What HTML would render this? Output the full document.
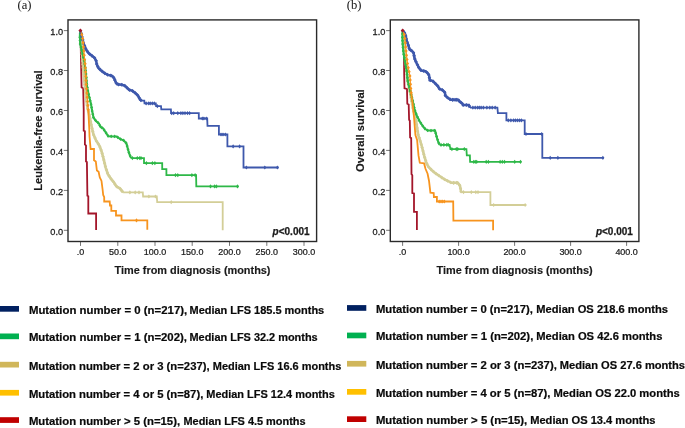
<!DOCTYPE html>
<html><head><meta charset="utf-8"><style>
html,body{margin:0;padding:0;background:#fff;}
svg{display:block;will-change:transform;}
text{font-family:"Liberation Sans",sans-serif;fill:#1a1a1a;}
.tk{font-size:9.7px;stroke:#1a1a1a;stroke-width:0.25px;}
.pv{font-size:10px;font-weight:bold;stroke:#1a1a1a;stroke-width:0.25px;}
.ti{font-size:10px;font-weight:bold;stroke:#1a1a1a;stroke-width:0.15px;}
.lg{font-size:10.6px;font-weight:bold;fill:#0a0a0a;stroke:#0a0a0a;stroke-width:0.2px;}
.sr{font-family:"Liberation Serif",serif;font-size:12.6px;fill:#111;}
</style></head><body>
<svg width="685" height="428" viewBox="0 0 685 428">
<rect width="685" height="428" fill="#fff"/>
<text x="17.5" y="8.9" class="sr">(a)</text>
<text x="346.8" y="8.6" class="sr">(b)</text>
<line x1="63.8" y1="30.6" x2="68.0" y2="30.6" stroke="#666" stroke-width="0.9"/>
<text transform="translate(63.10,35.20) scale(0.95,1)" text-anchor="end" class="tk">1.0</text>
<line x1="63.8" y1="70.5" x2="68.0" y2="70.5" stroke="#666" stroke-width="0.9"/>
<text transform="translate(63.10,75.14) scale(0.95,1)" text-anchor="end" class="tk">0.8</text>
<line x1="63.8" y1="110.5" x2="68.0" y2="110.5" stroke="#666" stroke-width="0.9"/>
<text transform="translate(63.10,115.08) scale(0.95,1)" text-anchor="end" class="tk">0.6</text>
<line x1="63.8" y1="150.4" x2="68.0" y2="150.4" stroke="#666" stroke-width="0.9"/>
<text transform="translate(63.10,155.02) scale(0.95,1)" text-anchor="end" class="tk">0.4</text>
<line x1="63.8" y1="190.4" x2="68.0" y2="190.4" stroke="#666" stroke-width="0.9"/>
<text transform="translate(63.10,194.96) scale(0.95,1)" text-anchor="end" class="tk">0.2</text>
<line x1="63.8" y1="230.3" x2="68.0" y2="230.3" stroke="#666" stroke-width="0.9"/>
<text transform="translate(63.10,234.90) scale(0.95,1)" text-anchor="end" class="tk">0.0</text>
<line x1="80.5" y1="241.5" x2="80.5" y2="245.9" stroke="#666" stroke-width="0.9"/>
<text transform="translate(80.50,254.90) scale(0.925,1)" text-anchor="middle" class="tk">.0</text>
<line x1="117.8" y1="241.5" x2="117.8" y2="245.9" stroke="#666" stroke-width="0.9"/>
<text transform="translate(117.75,254.90) scale(0.925,1)" text-anchor="middle" class="tk">50.0</text>
<line x1="155.0" y1="241.5" x2="155.0" y2="245.9" stroke="#666" stroke-width="0.9"/>
<text transform="translate(155.00,254.90) scale(0.925,1)" text-anchor="middle" class="tk">100.0</text>
<line x1="192.2" y1="241.5" x2="192.2" y2="245.9" stroke="#666" stroke-width="0.9"/>
<text transform="translate(192.25,254.90) scale(0.925,1)" text-anchor="middle" class="tk">150.0</text>
<line x1="229.5" y1="241.5" x2="229.5" y2="245.9" stroke="#666" stroke-width="0.9"/>
<text transform="translate(229.50,254.90) scale(0.925,1)" text-anchor="middle" class="tk">200.0</text>
<line x1="266.8" y1="241.5" x2="266.8" y2="245.9" stroke="#666" stroke-width="0.9"/>
<text transform="translate(266.75,254.90) scale(0.925,1)" text-anchor="middle" class="tk">250.0</text>
<line x1="304.0" y1="241.5" x2="304.0" y2="245.9" stroke="#666" stroke-width="0.9"/>
<text transform="translate(304.00,254.90) scale(0.925,1)" text-anchor="middle" class="tk">300.0</text>
<polyline points="80.5,30.5 80.7,45.0 80.9,55.0 81.6,87.5 83.2,88.3 83.7,110.0 83.7,130.6 84.9,131.2 84.9,144.4 86.0,145.5 86.0,161.5 86.9,162.0 87.4,195.7 88.3,196.3 88.3,213.5 96.1,213.5 96.1,230.1" fill="none" stroke="#a3162a" stroke-width="1.8" stroke-linejoin="miter" stroke-linecap="butt"/>

<polyline points="123.1,192.4 142.8,192.4 143.1,196.5 156.8,196.5 157.2,202.2 222.7,202.2 222.7,230.2" fill="none" stroke="#d3ce97" stroke-width="1.8" stroke-linejoin="miter" stroke-linecap="butt"/>
<polyline points="80.5,30.5 81.2,40.0 81.8,50.0 82.5,60.0 83.3,70.0 84.3,80.0 85.3,90.0 86.2,98.6 87.5,108.0 89.5,115.7 91.5,126.0 93.5,134.5 96.3,140.9 97.3,142.3 99.6,146.1 101.8,152.1 103.4,158.2 105.6,167.3 107.9,174.2 110.9,178.7 114.0,182.5 116.3,186.3 120.1,188.6 123.1,192.4" fill="none" stroke="#d3ce97" stroke-width="2.6" stroke-linejoin="miter" stroke-linecap="butt"/>
<polygon points="80.7,32.0 82.4,33.9 80.7,35.8 79.0,33.9" fill="#d3ce97"/><polygon points="81.0,35.4 82.7,37.3 81.0,39.2 79.3,37.3" fill="#d3ce97"/><polygon points="81.2,38.8 82.9,40.7 81.2,42.6 79.5,40.7" fill="#d3ce97"/><polygon points="81.4,42.2 83.1,44.1 81.4,46.0 79.7,44.1" fill="#d3ce97"/><polygon points="81.6,45.6 83.3,47.5 81.6,49.4 79.9,47.5" fill="#d3ce97"/><polygon points="81.9,49.0 83.6,50.9 81.9,52.8 80.2,50.9" fill="#d3ce97"/><polygon points="82.1,52.3 83.8,54.2 82.1,56.1 80.4,54.2" fill="#d3ce97"/><polygon points="82.3,55.7 84.0,57.6 82.3,59.5 80.6,57.6" fill="#d3ce97"/><polygon points="82.6,59.1 84.3,61.0 82.6,62.9 80.9,61.0" fill="#d3ce97"/><polygon points="82.9,62.5 84.6,64.4 82.9,66.3 81.2,64.4" fill="#d3ce97"/><polygon points="83.1,65.9 84.8,67.8 83.1,69.7 81.4,67.8" fill="#d3ce97"/><polygon points="83.4,69.3 85.1,71.2 83.4,73.1 81.7,71.2" fill="#d3ce97"/><polygon points="83.8,72.7 85.5,74.6 83.8,76.5 82.1,74.6" fill="#d3ce97"/><polygon points="84.1,76.1 85.8,78.0 84.1,79.9 82.4,78.0" fill="#d3ce97"/><polygon points="84.4,79.4 86.1,81.3 84.4,83.2 82.7,81.3" fill="#d3ce97"/><polygon points="84.8,82.8 86.5,84.7 84.8,86.6 83.1,84.7" fill="#d3ce97"/><polygon points="85.1,86.2 86.8,88.1 85.1,90.0 83.4,88.1" fill="#d3ce97"/><polygon points="85.5,89.6 87.2,91.5 85.5,93.4 83.8,91.5" fill="#d3ce97"/><polygon points="85.8,93.0 87.5,94.9 85.8,96.8 84.1,94.9" fill="#d3ce97"/><polygon points="86.2,96.4 87.9,98.3 86.2,100.2 84.5,98.3" fill="#d3ce97"/><polygon points="86.6,99.7 88.3,101.6 86.6,103.5 84.9,101.6" fill="#d3ce97"/><polygon points="87.1,103.1 88.8,105.0 87.1,106.9 85.4,105.0" fill="#d3ce97"/><polygon points="87.6,106.5 89.3,108.4 87.6,110.3 85.9,108.4" fill="#d3ce97"/><polygon points="88.4,109.7 90.1,111.6 88.4,113.5 86.7,111.6" fill="#d3ce97"/><polygon points="89.3,113.0 91.0,114.9 89.3,116.8 87.6,114.9" fill="#d3ce97"/><polygon points="90.0,116.4 91.7,118.3 90.0,120.2 88.3,118.3" fill="#d3ce97"/><polygon points="90.6,119.7 92.3,121.6 90.6,123.5 88.9,121.6" fill="#d3ce97"/><polygon points="91.3,123.0 93.0,124.9 91.3,126.8 89.6,124.9" fill="#d3ce97"/><polygon points="92.0,126.4 93.7,128.3 92.0,130.2 90.3,128.3" fill="#d3ce97"/><polygon points="92.8,129.7 94.5,131.6 92.8,133.5 91.1,131.6" fill="#d3ce97"/><polygon points="93.7,133.0 95.4,134.9 93.7,136.8 92.0,134.9" fill="#d3ce97"/><polygon points="95.0,136.1 96.7,138.0 95.0,139.9 93.3,138.0" fill="#d3ce97"/><polygon points="96.4,139.2 98.1,141.1 96.4,143.0 94.7,141.1" fill="#d3ce97"/><polygon points="98.3,142.0 100.0,143.9 98.3,145.8 96.6,143.9" fill="#d3ce97"/><polygon points="99.9,145.0 101.6,146.9 99.9,148.8 98.2,146.9" fill="#d3ce97"/><polygon points="101.1,148.2 102.8,150.1 101.1,152.0 99.4,150.1" fill="#d3ce97"/><polygon points="102.1,151.4 103.8,153.3 102.1,155.2 100.4,153.3" fill="#d3ce97"/><polygon points="103.0,154.7 104.7,156.6 103.0,158.5 101.3,156.6" fill="#d3ce97"/><polygon points="103.8,158.0 105.5,159.9 103.8,161.8 102.1,159.9" fill="#d3ce97"/><polygon points="104.6,161.3 106.3,163.2 104.6,165.1 102.9,163.2" fill="#d3ce97"/><polygon points="105.4,164.6 107.1,166.5 105.4,168.4 103.7,166.5" fill="#d3ce97"/><polygon points="106.4,167.8 108.1,169.7 106.4,171.6 104.7,169.7" fill="#d3ce97"/><polygon points="107.5,171.1 109.2,173.0 107.5,174.9 105.8,173.0" fill="#d3ce97"/><polygon points="109.1,174.1 110.8,176.0 109.1,177.9 107.4,176.0" fill="#d3ce97"/><polygon points="111.0,176.9 112.7,178.8 111.0,180.7 109.3,178.8" fill="#d3ce97"/><polygon points="113.1,179.5 114.8,181.4 113.1,183.3 111.4,181.4" fill="#d3ce97"/><polygon points="115.0,182.3 116.7,184.2 115.0,186.1 113.3,184.2" fill="#d3ce97"/><polygon points="117.1,184.9 118.8,186.8 117.1,188.7 115.4,186.8" fill="#d3ce97"/><polygon points="120.0,186.7 121.7,188.6 120.0,190.5 118.3,188.6" fill="#d3ce97"/><polygon points="122.1,189.3 123.8,191.2 122.1,193.1 120.4,191.2" fill="#d3ce97"/>
<polygon points="129.9,190.3 131.4,192.4 129.9,194.5 128.4,192.4" fill="#d3ce97"/><polygon points="135.2,190.3 136.7,192.4 135.2,194.5 133.7,192.4" fill="#d3ce97"/><polygon points="139.0,190.3 140.5,192.4 139.0,194.5 137.5,192.4" fill="#d3ce97"/><polygon points="148.9,194.4 150.4,196.5 148.9,198.6 147.4,196.5" fill="#d3ce97"/><polygon points="155.5,194.4 157.0,196.5 155.5,198.6 154.0,196.5" fill="#d3ce97"/><polygon points="171.2,200.1 172.7,202.2 171.2,204.3 169.7,202.2" fill="#d3ce97"/>
<polyline points="131.5,158.1 144.0,158.1 144.0,163.2 162.2,163.2 162.2,169.1 166.4,169.1 166.4,175.2 196.1,175.2 196.3,186.4 238.5,186.4" fill="none" stroke="#2eb848" stroke-width="1.8" stroke-linejoin="miter" stroke-linecap="butt"/>
<polyline points="80.5,30.5 79.8,36.0 80.2,44.0 82.2,52.0 84.5,62.0 85.8,72.0 86.6,81.5 87.3,88.0 89.0,95.9 91.0,103.9 91.9,109.8 93.5,117.5 96.0,121.0 99.0,123.5 100.5,127.0 103.0,128.3 105.6,132.2 108.3,136.2 116.5,136.4 120.0,138.9 123.8,140.5 126.4,143.3 127.9,149.1 129.1,153.2 130.7,157.3 131.5,158.1" fill="none" stroke="#2eb848" stroke-width="2.0" stroke-linejoin="miter" stroke-linecap="butt"/>
<polygon points="80.1,32.0 81.6,33.9 80.1,35.8 78.6,33.9" fill="#2eb848"/><polygon points="79.9,35.4 81.4,37.3 79.9,39.2 78.4,37.3" fill="#2eb848"/><polygon points="80.0,38.7 81.5,40.6 80.0,42.5 78.5,40.6" fill="#2eb848"/><polygon points="80.2,42.1 81.7,44.0 80.2,45.9 78.7,44.0" fill="#2eb848"/><polygon points="81.0,45.4 82.5,47.3 81.0,49.2 79.5,47.3" fill="#2eb848"/><polygon points="81.9,48.7 83.4,50.6 81.9,52.5 80.4,50.6" fill="#2eb848"/><polygon points="82.6,52.0 84.1,53.9 82.6,55.8 81.1,53.9" fill="#2eb848"/><polygon points="83.4,55.4 84.9,57.3 83.4,59.2 81.9,57.3" fill="#2eb848"/><polygon points="84.2,58.7 85.7,60.6 84.2,62.5 82.7,60.6" fill="#2eb848"/><polygon points="84.7,62.0 86.2,63.9 84.7,65.8 83.2,63.9" fill="#2eb848"/><polygon points="85.2,65.4 86.7,67.3 85.2,69.2 83.7,67.3" fill="#2eb848"/><polygon points="85.6,68.8 87.1,70.7 85.6,72.6 84.1,70.7" fill="#2eb848"/><polygon points="86.0,72.1 87.5,74.0 86.0,75.9 84.5,74.0" fill="#2eb848"/><polygon points="86.3,75.5 87.8,77.4 86.3,79.3 84.8,77.4" fill="#2eb848"/><polygon points="86.5,78.9 88.0,80.8 86.5,82.7 85.0,80.8" fill="#2eb848"/><polygon points="86.9,82.3 88.4,84.2 86.9,86.1 85.4,84.2" fill="#2eb848"/><polygon points="87.3,85.7 88.8,87.6 87.3,89.5 85.8,87.6" fill="#2eb848"/><polygon points="87.9,89.0 89.4,90.9 87.9,92.8 86.4,90.9" fill="#2eb848"/><polygon points="88.6,92.3 90.1,94.2 88.6,96.1 87.1,94.2" fill="#2eb848"/><polygon points="89.4,95.7 90.9,97.6 89.4,99.5 87.9,97.6" fill="#2eb848"/><polygon points="90.2,98.9 91.7,100.8 90.2,102.7 88.7,100.8" fill="#2eb848"/><polygon points="91.0,102.3 92.5,104.2 91.0,106.1 89.5,104.2" fill="#2eb848"/><polygon points="91.6,105.6 93.1,107.5 91.6,109.4 90.1,107.5" fill="#2eb848"/><polygon points="92.1,109.0 93.6,110.9 92.1,112.8 90.6,110.9" fill="#2eb848"/><polygon points="92.8,112.3 94.3,114.2 92.8,116.1 91.3,114.2" fill="#2eb848"/><polygon points="93.5,115.6 95.0,117.5 93.5,119.4 92.0,117.5" fill="#2eb848"/><polygon points="95.5,118.4 97.0,120.3 95.5,122.2 94.0,120.3" fill="#2eb848"/><polygon points="97.9,120.7 99.4,122.6 97.9,124.5 96.4,122.6" fill="#2eb848"/><polygon points="99.8,123.5 101.3,125.4 99.8,127.3 98.3,125.4" fill="#2eb848"/><polygon points="101.9,125.8 103.4,127.7 101.9,129.6 100.4,127.7" fill="#2eb848"/><polygon points="104.2,128.2 105.7,130.1 104.2,132.0 102.7,130.1" fill="#2eb848"/><polygon points="106.1,131.0 107.6,132.9 106.1,134.8 104.6,132.9" fill="#2eb848"/><polygon points="108.0,133.9 109.5,135.8 108.0,137.7 106.5,135.8" fill="#2eb848"/><polygon points="111.2,134.4 112.7,136.3 111.2,138.2 109.7,136.3" fill="#2eb848"/><polygon points="114.6,134.5 116.1,136.4 114.6,138.3 113.1,136.4" fill="#2eb848"/><polygon points="117.7,135.4 119.2,137.3 117.7,139.2 116.2,137.3" fill="#2eb848"/><polygon points="120.5,137.2 122.0,139.1 120.5,141.0 119.0,139.1" fill="#2eb848"/><polygon points="123.7,138.5 125.2,140.4 123.7,142.3 122.2,140.4" fill="#2eb848"/><polygon points="126.0,141.0 127.5,142.9 126.0,144.8 124.5,142.9" fill="#2eb848"/><polygon points="127.1,144.1 128.6,146.0 127.1,147.9 125.6,146.0" fill="#2eb848"/><polygon points="128.0,147.4 129.5,149.3 128.0,151.2 126.5,149.3" fill="#2eb848"/><polygon points="128.9,150.7 130.4,152.6 128.9,154.5 127.4,152.6" fill="#2eb848"/><polygon points="130.1,153.9 131.6,155.8 130.1,157.7 128.6,155.8" fill="#2eb848"/>
<polygon points="132.4,156.0 133.9,158.1 132.4,160.2 130.9,158.1" fill="#2eb848"/><polygon points="137.3,156.0 138.8,158.1 137.3,160.2 135.8,158.1" fill="#2eb848"/><polygon points="139.7,156.0 141.2,158.1 139.7,160.2 138.2,158.1" fill="#2eb848"/><polygon points="141.0,156.0 142.5,158.1 141.0,160.2 139.5,158.1" fill="#2eb848"/><polygon points="146.4,161.1 147.9,163.2 146.4,165.3 144.9,163.2" fill="#2eb848"/><polygon points="152.4,161.1 153.9,163.2 152.4,165.3 150.9,163.2" fill="#2eb848"/><polygon points="154.9,161.1 156.4,163.2 154.9,165.3 153.4,163.2" fill="#2eb848"/><polygon points="175.5,173.1 177.0,175.2 175.5,177.3 174.0,175.2" fill="#2eb848"/><polygon points="177.8,173.1 179.3,175.2 177.8,177.3 176.3,175.2" fill="#2eb848"/><polygon points="191.9,173.1 193.4,175.2 191.9,177.3 190.4,175.2" fill="#2eb848"/><polygon points="195.1,173.1 196.6,175.2 195.1,177.3 193.6,175.2" fill="#2eb848"/><polygon points="210.5,184.3 212.0,186.4 210.5,188.5 209.0,186.4" fill="#2eb848"/><polygon points="214.6,184.3 216.1,186.4 214.6,188.5 213.1,186.4" fill="#2eb848"/><polygon points="216.4,184.3 217.9,186.4 216.4,188.5 214.9,186.4" fill="#2eb848"/><polygon points="237.5,184.3 239.0,186.4 237.5,188.5 236.0,186.4" fill="#2eb848"/>
<polyline points="141.5,100.6 144.3,100.6 144.5,103.4 155.8,103.4 156.1,106.2 161.0,106.2 161.3,109.3 170.9,109.3 171.1,113.2 198.8,113.2 198.8,118.5 207.2,118.5 207.5,125.8 218.9,125.8 218.9,134.5 227.4,134.5 227.4,146.4 243.5,146.4 243.5,167.5 278.6,167.5" fill="none" stroke="#3e58ac" stroke-width="1.8" stroke-linejoin="miter" stroke-linecap="butt"/>
<polyline points="80.5,30.5 82.0,37.0 83.6,43.6 85.9,49.1 88.3,53.0 91.4,55.3 94.5,57.7 96.1,60.8 96.9,64.7 98.4,67.9 100.8,70.2 104.7,73.3 107.8,74.9 111.7,75.7 114.1,78.0 115.6,82.0 117.2,84.3 121.9,84.8 125.0,85.9 127.4,88.2 129.0,89.8 132.1,90.6 135.2,92.9 138.3,96.0 140.0,99.6 141.5,100.6" fill="none" stroke="#3e58ac" stroke-width="2.5" stroke-linejoin="miter" stroke-linecap="butt"/>
<polygon points="81.2,31.6 83.0,33.6 81.2,35.6 79.4,33.6" fill="#3e58ac"/><polygon points="81.9,34.7 83.7,36.7 81.9,38.7 80.1,36.7" fill="#3e58ac"/><polygon points="82.7,37.8 84.5,39.8 82.7,41.8 80.9,39.8" fill="#3e58ac"/><polygon points="83.4,41.0 85.2,43.0 83.4,45.0 81.6,43.0" fill="#3e58ac"/><polygon points="84.6,43.9 86.4,45.9 84.6,47.9 82.8,45.9" fill="#3e58ac"/><polygon points="85.8,46.9 87.6,48.9 85.8,50.9 84.0,48.9" fill="#3e58ac"/><polygon points="87.5,49.6 89.3,51.6 87.5,53.6 85.7,51.6" fill="#3e58ac"/><polygon points="89.6,52.0 91.4,54.0 89.6,56.0 87.8,54.0" fill="#3e58ac"/><polygon points="92.1,53.9 93.9,55.9 92.1,57.9 90.3,55.9" fill="#3e58ac"/><polygon points="94.6,55.9 96.4,57.9 94.6,59.9 92.8,57.9" fill="#3e58ac"/><polygon points="96.1,58.7 97.9,60.7 96.1,62.7 94.3,60.7" fill="#3e58ac"/><polygon points="96.7,61.9 98.5,63.9 96.7,65.9 94.9,63.9" fill="#3e58ac"/><polygon points="97.9,64.8 99.7,66.8 97.9,68.8 96.1,66.8" fill="#3e58ac"/><polygon points="99.9,67.3 101.7,69.3 99.9,71.3 98.1,69.3" fill="#3e58ac"/><polygon points="102.3,69.4 104.1,71.4 102.3,73.4 100.5,71.4" fill="#3e58ac"/><polygon points="104.8,71.3 106.6,73.3 104.8,75.3 103.0,73.3" fill="#3e58ac"/><polygon points="107.6,72.8 109.4,74.8 107.6,76.8 105.8,74.8" fill="#3e58ac"/><polygon points="110.8,73.5 112.6,75.5 110.8,77.5 109.0,75.5" fill="#3e58ac"/><polygon points="113.3,75.2 115.1,77.2 113.3,79.2 111.5,77.2" fill="#3e58ac"/><polygon points="114.8,78.0 116.6,80.0 114.8,82.0 113.0,80.0" fill="#3e58ac"/><polygon points="116.2,80.9 118.0,82.9 116.2,84.9 114.4,82.9" fill="#3e58ac"/><polygon points="118.6,82.5 120.4,84.5 118.6,86.5 116.8,84.5" fill="#3e58ac"/><polygon points="121.8,82.8 123.6,84.8 121.8,86.8 120.0,84.8" fill="#3e58ac"/><polygon points="124.8,83.8 126.6,85.8 124.8,87.8 123.0,85.8" fill="#3e58ac"/><polygon points="127.2,86.0 129.0,88.0 127.2,90.0 125.4,88.0" fill="#3e58ac"/><polygon points="129.6,88.0 131.4,90.0 129.6,92.0 127.8,90.0" fill="#3e58ac"/><polygon points="132.6,89.0 134.4,91.0 132.6,93.0 130.8,91.0" fill="#3e58ac"/><polygon points="135.2,90.9 137.0,92.9 135.2,94.9 133.4,92.9" fill="#3e58ac"/><polygon points="137.4,93.1 139.2,95.1 137.4,97.1 135.6,95.1" fill="#3e58ac"/><polygon points="139.1,95.8 140.9,97.8 139.1,99.8 137.3,97.8" fill="#3e58ac"/><polygon points="141.0,98.3 142.8,100.3 141.0,102.3 139.2,100.3" fill="#3e58ac"/>
<polygon points="146.1,101.3 147.6,103.4 146.1,105.5 144.6,103.4" fill="#3e58ac"/><polygon points="148.7,101.3 150.2,103.4 148.7,105.5 147.2,103.4" fill="#3e58ac"/><polygon points="150.2,101.3 151.7,103.4 150.2,105.5 148.7,103.4" fill="#3e58ac"/><polygon points="152.3,101.3 153.8,103.4 152.3,105.5 150.8,103.4" fill="#3e58ac"/><polygon points="154.3,101.3 155.8,103.4 154.3,105.5 152.8,103.4" fill="#3e58ac"/><polygon points="157.4,104.1 158.9,106.2 157.4,108.3 155.9,106.2" fill="#3e58ac"/><polygon points="171.7,111.1 173.2,113.2 171.7,115.3 170.2,113.2" fill="#3e58ac"/><polygon points="173.7,111.1 175.2,113.2 173.7,115.3 172.2,113.2" fill="#3e58ac"/><polygon points="177.8,111.1 179.3,113.2 177.8,115.3 176.3,113.2" fill="#3e58ac"/><polygon points="180.9,111.1 182.4,113.2 180.9,115.3 179.4,113.2" fill="#3e58ac"/><polygon points="182.9,111.1 184.4,113.2 182.9,115.3 181.4,113.2" fill="#3e58ac"/><polygon points="185.0,111.1 186.5,113.2 185.0,115.3 183.5,113.2" fill="#3e58ac"/><polygon points="187.5,111.1 189.0,113.2 187.5,115.3 186.0,113.2" fill="#3e58ac"/><polygon points="189.6,111.1 191.1,113.2 189.6,115.3 188.1,113.2" fill="#3e58ac"/><polygon points="202.3,116.4 203.8,118.5 202.3,120.6 200.8,118.5" fill="#3e58ac"/><polygon points="203.9,116.4 205.4,118.5 203.9,120.6 202.4,118.5" fill="#3e58ac"/><polygon points="206.4,116.4 207.9,118.5 206.4,120.6 204.9,118.5" fill="#3e58ac"/><polygon points="221.0,132.4 222.5,134.5 221.0,136.6 219.5,134.5" fill="#3e58ac"/><polygon points="223.0,132.4 224.5,134.5 223.0,136.6 221.5,134.5" fill="#3e58ac"/><polygon points="225.3,132.4 226.8,134.5 225.3,136.6 223.8,134.5" fill="#3e58ac"/><polygon points="233.1,144.3 234.6,146.4 233.1,148.5 231.6,146.4" fill="#3e58ac"/><polygon points="239.6,144.3 241.1,146.4 239.6,148.5 238.1,146.4" fill="#3e58ac"/><polygon points="246.4,165.4 247.9,167.5 246.4,169.6 244.9,167.5" fill="#3e58ac"/><polygon points="264.8,165.4 266.3,167.5 264.8,169.6 263.3,167.5" fill="#3e58ac"/><polygon points="277.4,165.4 278.9,167.5 277.4,169.6 275.9,167.5" fill="#3e58ac"/>
<polyline points="88.3,110.0 89.3,130.0 89.5,136.3 90.6,149.0 94.0,149.0 94.0,160.3 95.8,161.5 96.9,170.6 98.6,171.8 99.8,177.5 101.5,180.9 102.6,189.5 103.2,195.0 104.2,197.1 104.2,201.5 109.7,201.5 110.0,205.5 111.3,205.5 111.3,210.8 116.0,210.8 116.0,215.5 121.5,215.5 121.5,220.4 147.3,220.4 147.3,229.7" fill="none" stroke="#f7941e" stroke-width="1.8" stroke-linejoin="miter" stroke-linecap="butt"/>
<polyline points="80.5,30.5 82.3,36.0 83.3,45.0 84.2,55.0 85.2,65.0 85.8,75.0 86.2,85.0 86.8,91.8 88.3,110.0" fill="none" stroke="#f7941e" stroke-width="1.0" stroke-linejoin="miter" stroke-linecap="butt"/>
<polygon points="81.8,32.5 83.4,34.5 81.8,36.5 80.2,34.5" fill="#f7941e"/><polygon points="82.6,36.6 84.2,38.6 82.6,40.6 81.0,38.6" fill="#f7941e"/><polygon points="83.1,40.8 84.7,42.8 83.1,44.8 81.5,42.8" fill="#f7941e"/><polygon points="83.5,44.9 85.1,46.9 83.5,48.9 81.9,46.9" fill="#f7941e"/><polygon points="83.9,49.1 85.5,51.1 83.9,53.1 82.3,51.1" fill="#f7941e"/><polygon points="84.2,53.3 85.8,55.3 84.2,57.3 82.6,55.3" fill="#f7941e"/><polygon points="84.6,57.5 86.2,59.5 84.6,61.5 83.0,59.5" fill="#f7941e"/><polygon points="85.1,61.7 86.7,63.7 85.1,65.7 83.5,63.7" fill="#f7941e"/><polygon points="85.4,65.9 87.0,67.9 85.4,69.9 83.8,67.9" fill="#f7941e"/><polygon points="85.6,70.1 87.2,72.1 85.6,74.1 84.0,72.1" fill="#f7941e"/><polygon points="85.8,74.2 87.4,76.2 85.8,78.2 84.2,76.2" fill="#f7941e"/><polygon points="86.0,78.4 87.6,80.4 86.0,82.4 84.4,80.4" fill="#f7941e"/><polygon points="86.2,82.6 87.8,84.6 86.2,86.6 84.6,84.6" fill="#f7941e"/><polygon points="86.5,86.8 88.1,88.8 86.5,90.8 84.9,88.8" fill="#f7941e"/><polygon points="86.9,91.0 88.5,93.0 86.9,95.0 85.3,93.0" fill="#f7941e"/><polygon points="87.2,95.2 88.8,97.2 87.2,99.2 85.6,97.2" fill="#f7941e"/><polygon points="87.6,99.4 89.2,101.4 87.6,103.4 86.0,101.4" fill="#f7941e"/><polygon points="87.9,103.6 89.5,105.6 87.9,107.6 86.3,105.6" fill="#f7941e"/><polygon points="88.3,107.8 89.9,109.8 88.3,111.8 86.7,109.8" fill="#f7941e"/>
<polygon points="136.5,218.3 138.0,220.4 136.5,222.5 135.0,220.4" fill="#f7941e"/>
<polygon points="80.4,28.6 82.4,30.6 80.4,32.6 78.4,30.6" fill="#a3162a"/>
<rect x="68.0" y="19.9" width="248.6" height="221.6" fill="none" stroke="#2a2a2a" stroke-width="1.4"/>
<text x="309.6" y="234.6" text-anchor="end" class="pv"><tspan font-style="italic">p</tspan>&lt;0.001</text>
<text x="114.5" y="273.5" class="ti" textLength="156" lengthAdjust="spacingAndGlyphs">Time from diagnosis (months)</text>
<text transform="translate(41.6,130.6) rotate(-90)" x="0" y="0" text-anchor="middle" class="ti" textLength="120.4" lengthAdjust="spacingAndGlyphs">Leukemia-free survival</text>
<line x1="386.1" y1="30.6" x2="390.3" y2="30.6" stroke="#666" stroke-width="0.9"/>
<text transform="translate(385.40,35.20) scale(0.95,1)" text-anchor="end" class="tk">1.0</text>
<line x1="386.1" y1="70.5" x2="390.3" y2="70.5" stroke="#666" stroke-width="0.9"/>
<text transform="translate(385.40,75.14) scale(0.95,1)" text-anchor="end" class="tk">0.8</text>
<line x1="386.1" y1="110.5" x2="390.3" y2="110.5" stroke="#666" stroke-width="0.9"/>
<text transform="translate(385.40,115.08) scale(0.95,1)" text-anchor="end" class="tk">0.6</text>
<line x1="386.1" y1="150.4" x2="390.3" y2="150.4" stroke="#666" stroke-width="0.9"/>
<text transform="translate(385.40,155.02) scale(0.95,1)" text-anchor="end" class="tk">0.4</text>
<line x1="386.1" y1="190.4" x2="390.3" y2="190.4" stroke="#666" stroke-width="0.9"/>
<text transform="translate(385.40,194.96) scale(0.95,1)" text-anchor="end" class="tk">0.2</text>
<line x1="386.1" y1="230.3" x2="390.3" y2="230.3" stroke="#666" stroke-width="0.9"/>
<text transform="translate(385.40,234.90) scale(0.95,1)" text-anchor="end" class="tk">0.0</text>
<line x1="402.6" y1="241.5" x2="402.6" y2="245.9" stroke="#666" stroke-width="0.9"/>
<text transform="translate(402.60,254.90) scale(0.925,1)" text-anchor="middle" class="tk">.0</text>
<line x1="458.6" y1="241.5" x2="458.6" y2="245.9" stroke="#666" stroke-width="0.9"/>
<text transform="translate(458.60,254.90) scale(0.925,1)" text-anchor="middle" class="tk">100.0</text>
<line x1="514.6" y1="241.5" x2="514.6" y2="245.9" stroke="#666" stroke-width="0.9"/>
<text transform="translate(514.60,254.90) scale(0.925,1)" text-anchor="middle" class="tk">200.0</text>
<line x1="570.6" y1="241.5" x2="570.6" y2="245.9" stroke="#666" stroke-width="0.9"/>
<text transform="translate(570.60,254.90) scale(0.925,1)" text-anchor="middle" class="tk">300.0</text>
<line x1="626.6" y1="241.5" x2="626.6" y2="245.9" stroke="#666" stroke-width="0.9"/>
<text transform="translate(626.60,254.90) scale(0.925,1)" text-anchor="middle" class="tk">400.0</text>
<polyline points="402.6,30.5 403.8,39.7 404.2,75.0 404.5,88.3 407.0,89.0 407.3,103.8 408.7,104.5 409.1,119.9 409.8,120.6 410.1,137.5 411.2,138.1 411.5,174.1 412.3,175.2 412.3,193.0 414.0,193.5 414.0,211.8 416.9,211.8 416.9,230.1" fill="none" stroke="#a3162a" stroke-width="1.8" stroke-linejoin="miter" stroke-linecap="butt"/>

<polyline points="461.2,192.2 490.4,192.2 490.4,205.0 526.3,205.0" fill="none" stroke="#d3ce97" stroke-width="1.8" stroke-linejoin="miter" stroke-linecap="butt"/>
<polyline points="402.6,30.5 403.6,40.0 404.5,50.0 405.5,60.0 406.6,70.0 407.5,80.0 409.0,88.0 410.5,94.6 413.3,110.1 416.1,121.3 418.2,135.0 419.9,140.0 422.0,147.0 424.1,155.4 426.2,162.4 428.3,166.6 431.8,170.2 436.0,173.7 440.2,176.5 444.5,179.3 448.7,181.4 451.5,182.8 457.8,182.8 459.9,185.6 461.2,192.2" fill="none" stroke="#d3ce97" stroke-width="2.6" stroke-linejoin="miter" stroke-linecap="butt"/>
<polygon points="403.0,32.0 404.7,33.9 403.0,35.8 401.3,33.9" fill="#d3ce97"/><polygon points="403.3,35.4 405.0,37.3 403.3,39.2 401.6,37.3" fill="#d3ce97"/><polygon points="403.7,38.7 405.4,40.6 403.7,42.5 402.0,40.6" fill="#d3ce97"/><polygon points="404.0,42.1 405.7,44.0 404.0,45.9 402.3,44.0" fill="#d3ce97"/><polygon points="404.3,45.5 406.0,47.4 404.3,49.3 402.6,47.4" fill="#d3ce97"/><polygon points="404.6,48.9 406.3,50.8 404.6,52.7 402.9,50.8" fill="#d3ce97"/><polygon points="404.9,52.3 406.6,54.2 404.9,56.1 403.2,54.2" fill="#d3ce97"/><polygon points="405.3,55.7 407.0,57.6 405.3,59.5 403.6,57.6" fill="#d3ce97"/><polygon points="405.6,59.1 407.3,61.0 405.6,62.9 403.9,61.0" fill="#d3ce97"/><polygon points="406.0,62.4 407.7,64.3 406.0,66.2 404.3,64.3" fill="#d3ce97"/><polygon points="406.3,65.8 408.0,67.7 406.3,69.6 404.6,67.7" fill="#d3ce97"/><polygon points="406.7,69.2 408.4,71.1 406.7,73.0 405.0,71.1" fill="#d3ce97"/><polygon points="407.0,72.6 408.7,74.5 407.0,76.4 405.3,74.5" fill="#d3ce97"/><polygon points="407.3,76.0 409.0,77.9 407.3,79.8 405.6,77.9" fill="#d3ce97"/><polygon points="407.7,79.3 409.4,81.2 407.7,83.1 406.0,81.2" fill="#d3ce97"/><polygon points="408.4,82.7 410.1,84.6 408.4,86.5 406.7,84.6" fill="#d3ce97"/><polygon points="409.0,86.0 410.7,87.9 409.0,89.8 407.3,87.9" fill="#d3ce97"/><polygon points="409.7,89.3 411.4,91.2 409.7,93.1 408.0,91.2" fill="#d3ce97"/><polygon points="410.5,92.7 412.2,94.6 410.5,96.5 408.8,94.6" fill="#d3ce97"/><polygon points="411.1,96.0 412.8,97.9 411.1,99.8 409.4,97.9" fill="#d3ce97"/><polygon points="411.7,99.3 413.4,101.2 411.7,103.1 410.0,101.2" fill="#d3ce97"/><polygon points="412.3,102.7 414.0,104.6 412.3,106.5 410.6,104.6" fill="#d3ce97"/><polygon points="412.9,106.0 414.6,107.9 412.9,109.8 411.2,107.9" fill="#d3ce97"/><polygon points="413.6,109.4 415.3,111.3 413.6,113.2 411.9,111.3" fill="#d3ce97"/><polygon points="414.4,112.7 416.1,114.6 414.4,116.5 412.7,114.6" fill="#d3ce97"/><polygon points="415.2,116.0 416.9,117.9 415.2,119.8 413.5,117.9" fill="#d3ce97"/><polygon points="416.1,119.3 417.8,121.2 416.1,123.1 414.4,121.2" fill="#d3ce97"/><polygon points="416.6,122.6 418.3,124.5 416.6,126.4 414.9,124.5" fill="#d3ce97"/><polygon points="417.1,126.0 418.8,127.9 417.1,129.8 415.4,127.9" fill="#d3ce97"/><polygon points="417.6,129.3 419.3,131.2 417.6,133.1 415.9,131.2" fill="#d3ce97"/><polygon points="418.1,132.7 419.8,134.6 418.1,136.5 416.4,134.6" fill="#d3ce97"/><polygon points="419.2,135.9 420.9,137.8 419.2,139.7 417.5,137.8" fill="#d3ce97"/><polygon points="420.2,139.2 421.9,141.1 420.2,143.0 418.5,141.1" fill="#d3ce97"/><polygon points="421.2,142.4 422.9,144.3 421.2,146.2 419.5,144.3" fill="#d3ce97"/><polygon points="422.1,145.7 423.8,147.6 422.1,149.5 420.4,147.6" fill="#d3ce97"/><polygon points="423.0,149.0 424.7,150.9 423.0,152.8 421.3,150.9" fill="#d3ce97"/><polygon points="423.8,152.3 425.5,154.2 423.8,156.1 422.1,154.2" fill="#d3ce97"/><polygon points="424.7,155.6 426.4,157.5 424.7,159.4 423.0,157.5" fill="#d3ce97"/><polygon points="425.7,158.8 427.4,160.7 425.7,162.6 424.0,160.7" fill="#d3ce97"/><polygon points="426.9,162.0 428.6,163.9 426.9,165.8 425.2,163.9" fill="#d3ce97"/><polygon points="428.5,164.9 430.2,166.8 428.5,168.7 426.8,166.8" fill="#d3ce97"/><polygon points="430.9,167.4 432.6,169.3 430.9,171.2 429.2,169.3" fill="#d3ce97"/><polygon points="433.4,169.7 435.1,171.6 433.4,173.5 431.7,171.6" fill="#d3ce97"/><polygon points="436.0,171.8 437.7,173.7 436.0,175.6 434.3,173.7" fill="#d3ce97"/><polygon points="438.9,173.7 440.6,175.6 438.9,177.5 437.2,175.6" fill="#d3ce97"/><polygon points="441.7,175.6 443.4,177.5 441.7,179.4 440.0,177.5" fill="#d3ce97"/><polygon points="444.6,177.4 446.3,179.3 444.6,181.2 442.9,179.3" fill="#d3ce97"/><polygon points="447.6,179.0 449.3,180.9 447.6,182.8 445.9,180.9" fill="#d3ce97"/><polygon points="450.6,180.5 452.3,182.4 450.6,184.3 448.9,182.4" fill="#d3ce97"/><polygon points="453.9,180.9 455.6,182.8 453.9,184.7 452.2,182.8" fill="#d3ce97"/><polygon points="457.3,180.9 459.0,182.8 457.3,184.7 455.6,182.8" fill="#d3ce97"/><polygon points="459.6,183.3 461.3,185.2 459.6,187.1 457.9,185.2" fill="#d3ce97"/><polygon points="460.5,186.5 462.2,188.4 460.5,190.3 458.8,188.4" fill="#d3ce97"/><polygon points="461.1,189.8 462.8,191.7 461.1,193.6 459.4,191.7" fill="#d3ce97"/>
<polygon points="453.4,180.7 454.9,182.8 453.4,184.9 451.9,182.8" fill="#d3ce97"/><polygon points="456.7,180.7 458.2,182.8 456.7,184.9 455.2,182.8" fill="#d3ce97"/><polygon points="463.5,190.1 465.0,192.2 463.5,194.3 462.0,192.2" fill="#d3ce97"/><polygon points="471.3,190.1 472.8,192.2 471.3,194.3 469.8,192.2" fill="#d3ce97"/><polygon points="475.8,190.1 477.3,192.2 475.8,194.3 474.3,192.2" fill="#d3ce97"/><polygon points="478.0,190.1 479.5,192.2 478.0,194.3 476.5,192.2" fill="#d3ce97"/><polygon points="493.7,202.9 495.2,205.0 493.7,207.1 492.2,205.0" fill="#d3ce97"/><polygon points="525.1,202.9 526.6,205.0 525.1,207.1 523.6,205.0" fill="#d3ce97"/>
<polyline points="439.5,144.8 449.6,144.8 450.4,149.1 466.4,149.1 466.8,155.4 469.9,155.4 470.1,161.8 521.3,161.8" fill="none" stroke="#2eb848" stroke-width="1.8" stroke-linejoin="miter" stroke-linecap="butt"/>
<polyline points="402.6,30.5 402.4,38.0 402.8,46.0 403.8,55.0 405.2,63.0 406.6,70.0 407.7,80.6 409.8,89.0 412.6,100.2 414.7,110.1 416.8,115.7 419.6,121.3 422.4,125.5 425.2,129.0 428.0,130.6 435.1,130.6 436.6,136.7 438.0,141.1 439.5,144.8" fill="none" stroke="#2eb848" stroke-width="2.0" stroke-linejoin="miter" stroke-linecap="butt"/>
<polygon points="402.5,32.0 404.0,33.9 402.5,35.8 401.0,33.9" fill="#2eb848"/><polygon points="402.4,35.4 403.9,37.3 402.4,39.2 400.9,37.3" fill="#2eb848"/><polygon points="402.5,38.8 404.0,40.7 402.5,42.6 401.0,40.7" fill="#2eb848"/><polygon points="402.7,42.2 404.2,44.1 402.7,46.0 401.2,44.1" fill="#2eb848"/><polygon points="403.0,45.6 404.5,47.5 403.0,49.4 401.5,47.5" fill="#2eb848"/><polygon points="403.3,49.0 404.8,50.9 403.3,52.8 401.8,50.9" fill="#2eb848"/><polygon points="403.7,52.3 405.2,54.2 403.7,56.1 402.2,54.2" fill="#2eb848"/><polygon points="404.3,55.7 405.8,57.6 404.3,59.5 402.8,57.6" fill="#2eb848"/><polygon points="404.8,59.0 406.3,60.9 404.8,62.8 403.3,60.9" fill="#2eb848"/><polygon points="405.5,62.4 407.0,64.3 405.5,66.2 404.0,64.3" fill="#2eb848"/><polygon points="406.1,65.7 407.6,67.6 406.1,69.5 404.6,67.6" fill="#2eb848"/><polygon points="406.7,69.1 408.2,71.0 406.7,72.9 405.2,71.0" fill="#2eb848"/><polygon points="407.1,72.4 408.6,74.3 407.1,76.2 405.6,74.3" fill="#2eb848"/><polygon points="407.4,75.8 408.9,77.7 407.4,79.6 405.9,77.7" fill="#2eb848"/><polygon points="407.8,79.2 409.3,81.1 407.8,83.0 406.3,81.1" fill="#2eb848"/><polygon points="408.6,82.5 410.1,84.4 408.6,86.3 407.1,84.4" fill="#2eb848"/><polygon points="409.5,85.8 411.0,87.7 409.5,89.6 408.0,87.7" fill="#2eb848"/><polygon points="410.3,89.1 411.8,91.0 410.3,92.9 408.8,91.0" fill="#2eb848"/><polygon points="411.1,92.4 412.6,94.3 411.1,96.2 409.6,94.3" fill="#2eb848"/><polygon points="411.9,95.7 413.4,97.6 411.9,99.5 410.4,97.6" fill="#2eb848"/><polygon points="412.7,99.0 414.2,100.9 412.7,102.8 411.2,100.9" fill="#2eb848"/><polygon points="413.5,102.3 415.0,104.2 413.5,106.1 412.0,104.2" fill="#2eb848"/><polygon points="414.2,105.6 415.7,107.5 414.2,109.4 412.7,107.5" fill="#2eb848"/><polygon points="415.0,108.9 416.5,110.8 415.0,112.7 413.5,110.8" fill="#2eb848"/><polygon points="416.2,112.1 417.7,114.0 416.2,115.9 414.7,114.0" fill="#2eb848"/><polygon points="417.5,115.2 419.0,117.1 417.5,119.0 416.0,117.1" fill="#2eb848"/><polygon points="419.0,118.3 420.5,120.2 419.0,122.1 417.5,120.2" fill="#2eb848"/><polygon points="420.8,121.2 422.3,123.1 420.8,125.0 419.3,123.1" fill="#2eb848"/><polygon points="422.7,124.0 424.2,125.9 422.7,127.8 421.2,125.9" fill="#2eb848"/><polygon points="424.8,126.6 426.3,128.5 424.8,130.4 423.3,128.5" fill="#2eb848"/><polygon points="427.6,128.5 429.1,130.4 427.6,132.3 426.1,130.4" fill="#2eb848"/><polygon points="431.0,128.7 432.5,130.6 431.0,132.5 429.5,130.6" fill="#2eb848"/><polygon points="434.4,128.7 435.9,130.6 434.4,132.5 432.9,130.6" fill="#2eb848"/><polygon points="435.7,131.3 437.2,133.2 435.7,135.1 434.2,133.2" fill="#2eb848"/><polygon points="436.6,134.6 438.1,136.5 436.6,138.4 435.1,136.5" fill="#2eb848"/><polygon points="437.6,137.9 439.1,139.8 437.6,141.7 436.1,139.8" fill="#2eb848"/><polygon points="438.7,141.0 440.2,142.9 438.7,144.8 437.2,142.9" fill="#2eb848"/>
<polygon points="441.0,142.7 442.5,144.8 441.0,146.9 439.5,144.8" fill="#2eb848"/><polygon points="443.9,142.7 445.4,144.8 443.9,146.9 442.4,144.8" fill="#2eb848"/><polygon points="446.8,142.7 448.3,144.8 446.8,146.9 445.3,144.8" fill="#2eb848"/><polygon points="448.2,142.7 449.7,144.8 448.2,146.9 446.7,144.8" fill="#2eb848"/><polygon points="451.9,147.0 453.4,149.1 451.9,151.2 450.4,149.1" fill="#2eb848"/><polygon points="456.3,147.0 457.8,149.1 456.3,151.2 454.8,149.1" fill="#2eb848"/><polygon points="457.7,147.0 459.2,149.1 457.7,151.2 456.2,149.1" fill="#2eb848"/><polygon points="464.3,147.0 465.8,149.1 464.3,151.2 462.8,149.1" fill="#2eb848"/><polygon points="473.8,159.7 475.3,161.8 473.8,163.9 472.3,161.8" fill="#2eb848"/><polygon points="475.3,159.7 476.8,161.8 475.3,163.9 473.8,161.8" fill="#2eb848"/><polygon points="476.7,159.7 478.2,161.8 476.7,163.9 475.2,161.8" fill="#2eb848"/><polygon points="486.2,159.7 487.7,161.8 486.2,163.9 484.7,161.8" fill="#2eb848"/><polygon points="488.4,159.7 489.9,161.8 488.4,163.9 486.9,161.8" fill="#2eb848"/><polygon points="500.1,159.7 501.6,161.8 500.1,163.9 498.6,161.8" fill="#2eb848"/><polygon points="502.3,159.7 503.8,161.8 502.3,163.9 500.8,161.8" fill="#2eb848"/><polygon points="504.5,159.7 506.0,161.8 504.5,163.9 503.0,161.8" fill="#2eb848"/><polygon points="514.7,159.7 516.2,161.8 514.7,163.9 513.2,161.8" fill="#2eb848"/><polygon points="520.5,159.7 522.0,161.8 520.5,163.9 519.0,161.8" fill="#2eb848"/>
<polyline points="470.0,107.6 497.4,107.6 497.9,113.1 506.4,113.1 506.4,120.3 524.7,120.3 524.7,134.0 542.3,134.0 542.3,157.8 603.8,157.8" fill="none" stroke="#3e58ac" stroke-width="1.8" stroke-linejoin="miter" stroke-linecap="butt"/>
<polyline points="402.6,30.5 404.0,32.0 405.5,35.0 406.7,40.8 408.4,45.5 409.6,49.6 411.9,50.8 413.7,53.1 414.3,57.2 415.4,60.7 417.2,64.2 418.9,67.7 421.3,70.6 425.3,71.2 427.5,72.8 429.1,75.5 429.7,80.2 432.6,80.8 435.5,83.7 437.8,86.0 439.6,88.9 442.5,90.1 444.9,92.4 445.4,95.9 447.8,97.7 450.7,99.8 458.3,99.8 460.0,102.1 462.4,103.5 463.0,105.1 468.8,105.1 470.0,107.6" fill="none" stroke="#3e58ac" stroke-width="2.5" stroke-linejoin="miter" stroke-linecap="butt"/>
<polygon points="404.5,31.0 406.3,33.0 404.5,35.0 402.7,33.0" fill="#3e58ac"/><polygon points="405.7,34.0 407.5,36.0 405.7,38.0 403.9,36.0" fill="#3e58ac"/><polygon points="406.3,37.1 408.1,39.1 406.3,41.1 404.5,39.1" fill="#3e58ac"/><polygon points="407.2,40.2 409.0,42.2 407.2,44.2 405.4,42.2" fill="#3e58ac"/><polygon points="408.3,43.2 410.1,45.2 408.3,47.2 406.5,45.2" fill="#3e58ac"/><polygon points="409.2,46.3 411.0,48.3 409.2,50.3 407.4,48.3" fill="#3e58ac"/><polygon points="411.2,48.4 413.0,50.4 411.2,52.4 409.4,50.4" fill="#3e58ac"/><polygon points="413.4,50.7 415.2,52.7 413.4,54.7 411.6,52.7" fill="#3e58ac"/><polygon points="414.1,53.8 415.9,55.8 414.1,57.8 412.3,55.8" fill="#3e58ac"/><polygon points="414.8,56.9 416.6,58.9 414.8,60.9 413.0,58.9" fill="#3e58ac"/><polygon points="416.0,59.8 417.8,61.8 416.0,63.8 414.2,61.8" fill="#3e58ac"/><polygon points="417.4,62.7 419.2,64.7 417.4,66.7 415.6,64.7" fill="#3e58ac"/><polygon points="418.8,65.6 420.6,67.6 418.8,69.6 417.0,67.6" fill="#3e58ac"/><polygon points="420.8,68.0 422.6,70.0 420.8,72.0 419.0,70.0" fill="#3e58ac"/><polygon points="423.8,69.0 425.6,71.0 423.8,73.0 422.0,71.0" fill="#3e58ac"/><polygon points="426.6,70.2 428.4,72.2 426.6,74.2 424.8,72.2" fill="#3e58ac"/><polygon points="428.6,72.6 430.4,74.6 428.6,76.6 426.8,74.6" fill="#3e58ac"/><polygon points="429.4,75.7 431.2,77.7 429.4,79.7 427.6,77.7" fill="#3e58ac"/><polygon points="430.3,78.3 432.1,80.3 430.3,82.3 428.5,80.3" fill="#3e58ac"/><polygon points="433.2,79.4 435.0,81.4 433.2,83.4 431.4,81.4" fill="#3e58ac"/><polygon points="435.5,81.7 437.3,83.7 435.5,85.7 433.7,83.7" fill="#3e58ac"/><polygon points="437.7,83.9 439.5,85.9 437.7,87.9 435.9,85.9" fill="#3e58ac"/><polygon points="439.4,86.7 441.2,88.7 439.4,90.7 437.6,88.7" fill="#3e58ac"/><polygon points="442.3,88.0 444.1,90.0 442.3,92.0 440.5,90.0" fill="#3e58ac"/><polygon points="444.6,90.2 446.4,92.2 444.6,94.2 442.8,92.2" fill="#3e58ac"/><polygon points="445.3,93.2 447.1,95.2 445.3,97.2 443.5,95.2" fill="#3e58ac"/><polygon points="447.4,95.4 449.2,97.4 447.4,99.4 445.6,97.4" fill="#3e58ac"/><polygon points="450.0,97.3 451.8,99.3 450.0,101.3 448.2,99.3" fill="#3e58ac"/><polygon points="453.0,97.8 454.8,99.8 453.0,101.8 451.2,99.8" fill="#3e58ac"/><polygon points="456.2,97.8 458.0,99.8 456.2,101.8 454.4,99.8" fill="#3e58ac"/><polygon points="459.0,98.7 460.8,100.7 459.0,102.7 457.2,100.7" fill="#3e58ac"/><polygon points="461.3,100.8 463.1,102.8 461.3,104.8 459.5,102.8" fill="#3e58ac"/><polygon points="463.2,103.1 465.0,105.1 463.2,107.1 461.4,105.1" fill="#3e58ac"/><polygon points="466.4,103.1 468.2,105.1 466.4,107.1 464.6,105.1" fill="#3e58ac"/><polygon points="469.1,103.8 470.9,105.8 469.1,107.8 467.3,105.8" fill="#3e58ac"/>
<polygon points="452.5,97.7 454.0,99.8 452.5,101.9 451.0,99.8" fill="#3e58ac"/><polygon points="455.0,97.7 456.5,99.8 455.0,101.9 453.5,99.8" fill="#3e58ac"/><polygon points="457.0,97.7 458.5,99.8 457.0,101.9 455.5,99.8" fill="#3e58ac"/><polygon points="472.9,105.5 474.4,107.6 472.9,109.7 471.4,107.6" fill="#3e58ac"/><polygon points="475.2,105.5 476.7,107.6 475.2,109.7 473.7,107.6" fill="#3e58ac"/><polygon points="477.6,105.5 479.1,107.6 477.6,109.7 476.1,107.6" fill="#3e58ac"/><polygon points="479.3,105.5 480.8,107.6 479.3,109.7 477.8,107.6" fill="#3e58ac"/><polygon points="481.1,105.5 482.6,107.6 481.1,109.7 479.6,107.6" fill="#3e58ac"/><polygon points="483.4,105.5 484.9,107.6 483.4,109.7 481.9,107.6" fill="#3e58ac"/><polygon points="486.9,105.5 488.4,107.6 486.9,109.7 485.4,107.6" fill="#3e58ac"/><polygon points="489.8,105.5 491.3,107.6 489.8,109.7 488.3,107.6" fill="#3e58ac"/><polygon points="492.2,105.5 493.7,107.6 492.2,109.7 490.7,107.6" fill="#3e58ac"/><polygon points="495.1,105.5 496.6,107.6 495.1,109.7 493.6,107.6" fill="#3e58ac"/><polygon points="508.3,118.2 509.8,120.3 508.3,122.4 506.8,120.3" fill="#3e58ac"/><polygon points="510.9,118.2 512.4,120.3 510.9,122.4 509.4,120.3" fill="#3e58ac"/><polygon points="513.6,118.2 515.1,120.3 513.6,122.4 512.1,120.3" fill="#3e58ac"/><polygon points="515.5,118.2 517.0,120.3 515.5,122.4 514.0,120.3" fill="#3e58ac"/><polygon points="517.5,118.2 519.0,120.3 517.5,122.4 516.0,120.3" fill="#3e58ac"/><polygon points="519.5,118.2 521.0,120.3 519.5,122.4 518.0,120.3" fill="#3e58ac"/><polygon points="521.4,118.2 522.9,120.3 521.4,122.4 519.9,120.3" fill="#3e58ac"/><polygon points="526.0,131.9 527.5,134.0 526.0,136.1 524.5,134.0" fill="#3e58ac"/><polygon points="541.7,131.9 543.2,134.0 541.7,136.1 540.2,134.0" fill="#3e58ac"/><polygon points="550.2,155.7 551.7,157.8 550.2,159.9 548.7,157.8" fill="#3e58ac"/><polygon points="557.9,155.7 559.4,157.8 557.9,159.9 556.4,157.8" fill="#3e58ac"/><polygon points="602.9,155.7 604.4,157.8 602.9,159.9 601.4,157.8" fill="#3e58ac"/>
<polyline points="411.2,93.2 412.6,103.0 414.0,117.1 415.4,135.0 417.1,140.0 418.5,155.4 419.8,162.8 424.1,163.4 425.5,168.8 427.6,173.7 429.0,180.7 430.4,192.6 433.7,193.0 433.9,197.0 436.9,197.0 436.9,201.5 453.2,201.5 453.4,220.6 493.1,220.6 493.1,230.2" fill="none" stroke="#f7941e" stroke-width="1.8" stroke-linejoin="miter" stroke-linecap="butt"/>
<polyline points="402.6,30.5 404.5,35.0 405.5,45.0 406.5,55.0 407.7,65.0 409.8,75.0 411.2,93.2" fill="none" stroke="#f7941e" stroke-width="1.0" stroke-linejoin="miter" stroke-linecap="butt"/>
<polygon points="404.2,32.4 405.8,34.4 404.2,36.4 402.6,34.4" fill="#f7941e"/><polygon points="404.8,36.5 406.4,38.5 404.8,40.5 403.2,38.5" fill="#f7941e"/><polygon points="405.3,40.7 406.9,42.7 405.3,44.7 403.7,42.7" fill="#f7941e"/><polygon points="405.7,44.9 407.3,46.9 405.7,48.9 404.1,46.9" fill="#f7941e"/><polygon points="406.1,49.0 407.7,51.0 406.1,53.0 404.5,51.0" fill="#f7941e"/><polygon points="406.5,53.2 408.1,55.2 406.5,57.2 404.9,55.2" fill="#f7941e"/><polygon points="407.0,57.4 408.6,59.4 407.0,61.4 405.4,59.4" fill="#f7941e"/><polygon points="407.5,61.6 409.1,63.6 407.5,65.6 405.9,63.6" fill="#f7941e"/><polygon points="408.3,65.7 409.9,67.7 408.3,69.7 406.7,67.7" fill="#f7941e"/><polygon points="409.1,69.8 410.7,71.8 409.1,73.8 407.5,71.8" fill="#f7941e"/><polygon points="409.9,73.9 411.5,75.9 409.9,77.9 408.3,75.9" fill="#f7941e"/><polygon points="410.2,78.1 411.8,80.1 410.2,82.1 408.6,80.1" fill="#f7941e"/><polygon points="410.5,82.3 412.1,84.3 410.5,86.3 408.9,84.3" fill="#f7941e"/><polygon points="410.8,86.5 412.4,88.5 410.8,90.5 409.2,88.5" fill="#f7941e"/><polygon points="411.2,90.7 412.8,92.7 411.2,94.7 409.6,92.7" fill="#f7941e"/>
<polygon points="439.2,199.4 440.7,201.5 439.2,203.6 437.7,201.5" fill="#f7941e"/><polygon points="441.0,199.4 442.5,201.5 441.0,203.6 439.5,201.5" fill="#f7941e"/><polygon points="442.7,199.4 444.2,201.5 442.7,203.6 441.2,201.5" fill="#f7941e"/><polygon points="444.4,199.4 445.9,201.5 444.4,203.6 442.9,201.5" fill="#f7941e"/>
<polygon points="402.7,28.6 404.7,30.6 402.7,32.6 400.7,30.6" fill="#a3162a"/>
<rect x="390.3" y="19.9" width="248.6" height="221.6" fill="none" stroke="#2a2a2a" stroke-width="1.4"/>
<text x="632.9" y="234.6" text-anchor="end" class="pv"><tspan font-style="italic">p</tspan>&lt;0.001</text>
<text x="436.6" y="273.5" class="ti" textLength="156" lengthAdjust="spacingAndGlyphs">Time from diagnosis (months)</text>
<text transform="translate(364.4,130.6) rotate(-90)" x="0" y="0" text-anchor="middle" class="ti" textLength="82.6" lengthAdjust="spacingAndGlyphs">Overall survival</text>
<rect x="0" y="306.0" width="19" height="5.7" fill="#002060"/>
<text x="28.9" y="313.6" class="lg" textLength="158.3" lengthAdjust="spacingAndGlyphs">Mutation number = 0 (n=217),</text>
<text x="189.5" y="313.6" class="lg" textLength="134.7" lengthAdjust="spacingAndGlyphs">Median LFS 185.5 months</text>
<rect x="347" y="305.1" width="19.3" height="5.7" fill="#002060"/>
<text x="375.9" y="312.8" class="lg" textLength="157.0" lengthAdjust="spacingAndGlyphs">Mutation number = 0 (n=217),</text>
<text x="536.3" y="312.8" class="lg" textLength="131.7" lengthAdjust="spacingAndGlyphs">Median OS 218.6 months</text>
<rect x="0" y="333.5" width="19" height="5.7" fill="#00b050"/>
<text x="28.9" y="341.1" class="lg" textLength="158.1" lengthAdjust="spacingAndGlyphs">Mutation number = 1 (n=202),</text>
<text x="189.5" y="341.1" class="lg" textLength="128.2" lengthAdjust="spacingAndGlyphs">Median LFS 32.2 months</text>
<rect x="347" y="332.6" width="19.3" height="5.7" fill="#00b050"/>
<text x="375.9" y="340.2" class="lg" textLength="157.4" lengthAdjust="spacingAndGlyphs">Mutation number = 1 (n=202),</text>
<text x="536.3" y="340.2" class="lg" textLength="126.1" lengthAdjust="spacingAndGlyphs">Median OS 42.6 months</text>
<rect x="0" y="361.8" width="19" height="5.7" fill="#d0b65a"/>
<text x="28.9" y="370.1" class="lg" textLength="180.7" lengthAdjust="spacingAndGlyphs">Mutation number = 2 or 3 (n=237),</text>
<text x="212.8" y="370.1" class="lg" textLength="128.5" lengthAdjust="spacingAndGlyphs">Median LFS 16.6 months</text>
<rect x="347" y="360.9" width="19.3" height="5.7" fill="#d0b65a"/>
<text x="375.9" y="369.2" class="lg" textLength="180.9" lengthAdjust="spacingAndGlyphs">Mutation number = 2 or 3 (n=237),</text>
<text x="559.8" y="369.2" class="lg" textLength="125.2" lengthAdjust="spacingAndGlyphs">Median OS 27.6 months</text>
<rect x="0" y="389.9" width="19" height="5.7" fill="#ffc000"/>
<text x="28.9" y="397.5" class="lg" textLength="174.4" lengthAdjust="spacingAndGlyphs">Mutation number = 4 or 5 (n=87),</text>
<text x="206.3" y="397.5" class="lg" textLength="128.5" lengthAdjust="spacingAndGlyphs">Median LFS 12.4 months</text>
<rect x="347" y="389.0" width="19.3" height="5.7" fill="#ffc000"/>
<text x="375.9" y="396.6" class="lg" textLength="174.6" lengthAdjust="spacingAndGlyphs">Mutation number = 4 or 5 (n=87),</text>
<text x="553.5" y="396.6" class="lg" textLength="126.3" lengthAdjust="spacingAndGlyphs">Median OS 22.0 months</text>
<rect x="0" y="417.2" width="19" height="5.7" fill="#c00000"/>
<text x="28.9" y="425.1" class="lg" textLength="151.2" lengthAdjust="spacingAndGlyphs">Mutation number &gt; 5 (n=15),</text>
<text x="183.5" y="425.1" class="lg" textLength="122.1" lengthAdjust="spacingAndGlyphs">Median LFS 4.5 months</text>
<rect x="347" y="416.3" width="19.3" height="5.7" fill="#c00000"/>
<text x="375.9" y="424.2" class="lg" textLength="151.4" lengthAdjust="spacingAndGlyphs">Mutation number &gt; 5 (n=15),</text>
<text x="530.2" y="424.2" class="lg" textLength="125.3" lengthAdjust="spacingAndGlyphs">Median OS 13.4 months</text>
</svg>
</body></html>
